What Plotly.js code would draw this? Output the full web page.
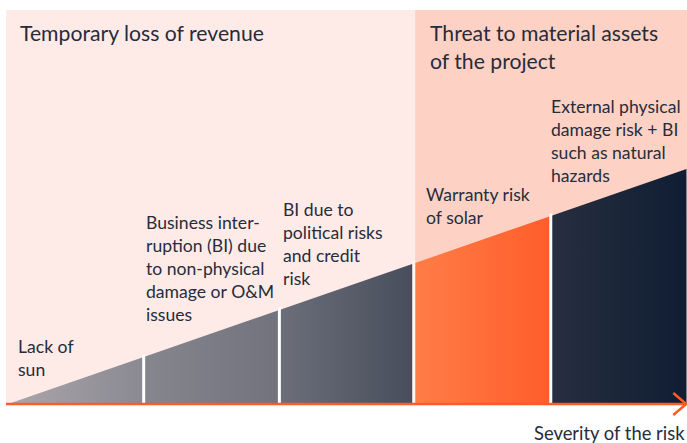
<!DOCTYPE html>
<html>
<head>
<meta charset="utf-8">
<script src="https://cdn.plot.ly/plotly-3.0.1.min.js"></script>
<style>html,body{margin:0;padding:0;background:#fff;}#chart{width:687px;height:443px;}</style>
</head>
<body>
<div id="chart"></div>
<script>
// ---- data ----
const categories = [
  ['Lack of', 'sun'],
  ['Business inter-', 'ruption (BI) due', 'to non-physical', 'damage or O&M', 'issues'],
  ['BI due to', 'political risks', 'and credit', 'risk'],
  ['Warranty risk', 'of solar'],
  ['External physical', 'damage risk + BI', 'such as natural', 'hazards']
];
const severityStart = [0, 1, 2, 3, 4];
const severityEnd   = [1, 2, 3, 4, 5];
const heightStart   = [0, 1, 2, 3, 4];
const heightEnd     = [1, 2, 3, 4, 5];
const groups = ['Temporary loss of revenue', 'Threat to material assets<br>of the project'];
const groupStart = [0, 3];
const groupEnd   = [3, 5];
const axisLabel = 'Severity of the risk';

// ---- styles ----
const gradients = [
  ['#aba6ab', '#8a8991'],
  ['#86868f', '#71727c'],
  ['#6c6f7a', '#474d5b'],
  ['#ff7d48', '#ff5d2a'],
  ['#272f40', '#101d33']
];
const groupColors = ['#feebe7', '#fdd2c5'];
const textColor = '#272c3b';
const font = 'Lato, "Liberation Sans", sans-serif';
const W = 687, H = 443;
const xr = [-0.059, 5.004], yr = [-0.83, 8.596];
// label positions (paper px)
const labelPos = [[16, 358], [144, 268], [281, 244], [424, 206], [549, 141]];
const groupPos = [[18, 33], [428, 47]];

const traces = categories.map((c, i) => ({
  type: 'scatter', mode: 'lines',
  x: [severityStart[i], severityEnd[i], severityEnd[i], severityStart[i], severityStart[i]],
  y: [0, 0, heightEnd[i], heightStart[i], 0],
  fill: 'toself',
  fillgradient: {type: 'horizontal', colorscale: [[0, gradients[i][0]], [1, gradients[i][1]]]},
  line: {width: 0},
  hoverinfo: 'skip', showlegend: false
}));

const shapes = [];
groups.forEach((g, i) => {
  shapes.push({type: 'rect', layer: 'below', xref: 'x', yref: 'y',
    x0: groupStart[i] === 0 ? -0.015 : groupStart[i],
    x1: groupEnd[i] === 5 ? 5.004 : groupEnd[i],
    y0: 0, y1: 8.383, fillcolor: groupColors[i], line: {width: 0}});
});
// separators between segments
for (let i = 1; i < severityStart.length; i++) {
  shapes.push({type: 'line', layer: 'above', xref: 'x', yref: 'y',
    x0: severityStart[i] - (i === 3 ? 0.01 : 0), x1: severityStart[i] - (i === 3 ? 0.01 : 0),
    y0: 0, y1: heightStart[i] + 0.05,
    line: {color: i === 3 ? '#fff6f3' : '#ffffff', width: 3}});
}
// axis arrow
shapes.push({type: 'line', layer: 'above', xref: 'x', yref: 'y', x0: -0.015, x1: 4.995, y0: 0, y1: 0,
  line: {color: '#ff5b27', width: 2.5}});
shapes.push({type: 'path', layer: 'above', xref: 'x', yref: 'y',
  path: 'M 4.903 0.234 L 4.998 0 L 4.903 -0.234',
  line: {color: '#ff5b27', width: 2.5}});

const annotations = [];
categories.forEach((c, i) => {
  annotations.push({xref: 'paper', yref: 'paper', x: labelPos[i][0] / W, y: 1 - labelPos[i][1] / H,
    xanchor: 'left', yanchor: 'middle', align: 'left', showarrow: false,
    text: c.join('<br>'), font: {family: font, size: 17.6, color: textColor}});
});
groups.forEach((g, i) => {
  annotations.push({xref: 'paper', yref: 'paper', x: groupPos[i][0] / W, y: 1 - groupPos[i][1] / H,
    xanchor: 'left', yanchor: 'middle', align: 'left', showarrow: false,
    text: g, font: {family: font, size: 21.2, color: textColor}});
});
annotations.push({xref: 'paper', yref: 'paper', x: 687 / W, y: 1 - 433 / H,
  xanchor: 'right', yanchor: 'middle', showarrow: false,
  text: axisLabel, font: {family: font, size: 18.4, color: textColor}});

const layout = {
  width: W, height: H,
  margin: {l: 0, r: 0, t: 0, b: 0},
  paper_bgcolor: '#ffffff', plot_bgcolor: 'rgba(0,0,0,0)',
  xaxis: {range: xr, visible: false, fixedrange: true},
  yaxis: {range: yr, visible: false, fixedrange: true},
  shapes: shapes, annotations: annotations, showlegend: false
};
Plotly.newPlot('chart', traces, layout, {displayModeBar: false, staticPlot: true});
</script>
</body>
</html>
